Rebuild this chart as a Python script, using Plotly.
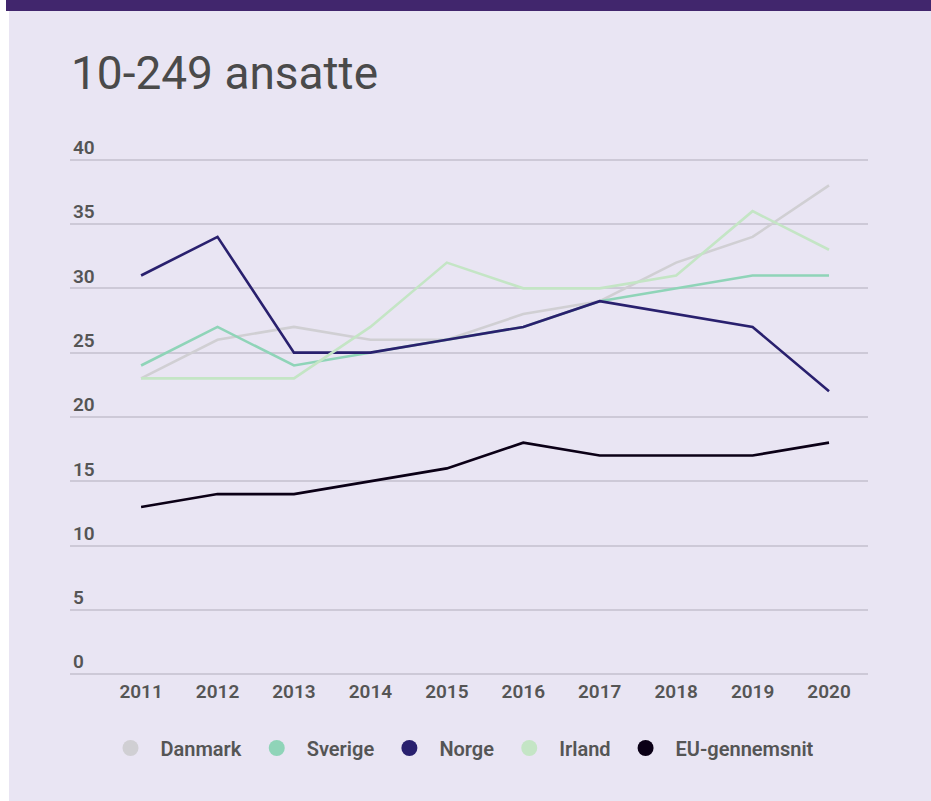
import plotly.graph_objects as go

years = [2011, 2012, 2013, 2014, 2015, 2016, 2017, 2018, 2019, 2020]
danmark = [23, 26, 27, 26, 26, 28, 29, 32, 34, 38]
sverige = [24, 27, 24, 25, 26, 27, 29, 30, 31, 31]
norge = [31, 34, 25, 25, 26, 27, 29, 28, 27, 22]
irland = [23, 23, 23, 27, 32, 30, 30, 31, 36, 33]
eu = [13, 14, 14, 15, 16, 18, 17, 17, 17, 18]

names = ["Danmark", "Sverige", "Norge", "Irland", "EU-gennemsnit"]
values = [danmark, sverige, norge, irland, eu]
colors = ["#d0cfd3", "#8fd4b8", "#29206e", "#c4e5c5", "#0b0016"]
y_ticks = [0, 5, 10, 15, 20, 25, 30, 35, 40]

W, H = 931, 801
ML, MR, MT, MB = 70, 63, 134, 123
PW, PH = W - ML - MR, H - MT - MB

def px_x(p):
    return (p - ML) / PW

def px_y(p):
    return (H - MB - p) / PH

fig = go.Figure()

# legend-only marker traces
for n, c in zip(names, colors):
    fig.add_trace(go.Scatter(x=[None], y=[None], mode="markers", name=n,
                             marker=dict(color=c, size=20), showlegend=True,
                             hoverinfo="skip"))

for n, v, c in zip(names, values, colors):
    fig.add_trace(go.Scatter(x=years, y=v, mode="lines", name=n,
                             line=dict(color=c, width=2.6), showlegend=False))

shapes = [
    dict(type="rect", xref="paper", yref="paper", x0=px_x(0), x1=px_x(9),
         y0=px_y(H), y1=px_y(0), fillcolor="white", line_width=0, layer="below"),
    dict(type="rect", xref="paper", yref="paper", x0=px_x(6), x1=px_x(W),
         y0=px_y(11), y1=px_y(0), fillcolor="#41266d", line_width=0, layer="below"),
]

fig.update_layout(
    width=W, height=H,
    margin=dict(l=ML, r=MR, t=MT, b=MB, pad=0),
    paper_bgcolor="#e9e5f3",
    plot_bgcolor="#e9e5f3",
    shapes=shapes,
    title=dict(text="10-249 ansatte", x=71 / W, xanchor="left",
               y=1 - 73 / H, yanchor="middle",
               font=dict(family="Roboto", size=46, color="#4a4a4a")),
    xaxis=dict(range=[2010.07, 2020.51], tickvals=years,
               ticktext=[str(y) for y in years], showgrid=False,
               zeroline=False, showline=False, ticks="",
               tickfont=dict(family="Roboto", size=19, color="#555555", weight=600)),
    yaxis=dict(range=[-0.3, 42.0], tickvals=y_ticks, ticktext=[str(t) for t in y_ticks],
               showgrid=True, gridcolor="#cdc9d7", gridwidth=1.5,
               zeroline=False, showline=False, ticklabelposition="inside top",
               ticklabelshift=1,
               tickfont=dict(family="Roboto", size=19, color="#555555", weight=600)),
    legend=dict(orientation="h", x=px_x(460), xanchor="center",
                y=px_y(748), yanchor="middle", bgcolor="rgba(0,0,0,0)",
                font=dict(family="Roboto", size=20, color="#555555", weight=600),
                itemsizing="trace", itemwidth=50),
    showlegend=True,
)

fig.write_html("out.html", config={"displayModeBar": False},
               post_script="document.body.style.margin='0';")
